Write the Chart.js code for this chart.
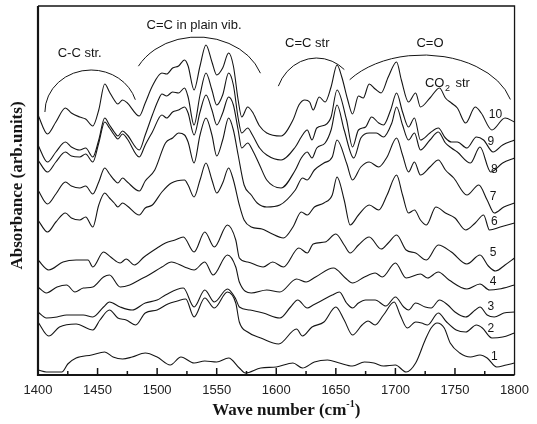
<!DOCTYPE html>
<html lang="en">
<head>
<meta charset="utf-8">
<title>Absorbance spectra</title>
<script src="https://cdn.jsdelivr.net/npm/chart.js@4.4.0/dist/chart.umd.min.js"></script>
<style>
    html, body { margin: 0; padding: 0; background: #fff; }
    canvas { display: block; }
</style>
</head>
<body>
<canvas id="spectraChart" width="537" height="424"></canvas>
<script>
// Axis range (wave number in cm-1, absorbance in arb. units)
const xMin = 1400;
const xMax = 1800;
const xStep = 50;
const yMin = 0;
const yMax = 369;

// Spectra: [wave number, absorbance]
const spectrum1 = [[1400,5],[1407,3],[1420,3],[1425,11],[1432,17],[1445,20],[1456,23],[1463,18],[1471,16],[1479,18],[1490,22],[1500,18],[1511,10],[1520,18],[1531,12],[1540,14],[1550,13],[1560,17],[1569,7],[1574,2],[1587,7],[1600,8],[1614,12],[1622,7],[1632,13],[1643,15],[1653,12],[1664,9],[1674,13],[1682,12],[1690,9],[1700,10],[1709,3],[1717,12],[1725,35],[1730,47],[1735,52],[1741,47],[1746,32],[1754,22],[1763,18],[1771,20],[1777,17],[1785,8],[1793,10],[1800,12]];
const spectrum2 = [[1400,53],[1409,39],[1418,48],[1432,51],[1446,45],[1452,55],[1460,65],[1467,57],[1474,55],[1482,50],[1490,62],[1500,65],[1509,71],[1517,74],[1524,76],[1531,58],[1540,77],[1548,67],[1559,83],[1566,72],[1569,53],[1576,43],[1587,37],[1602,31],[1617,46],[1622,39],[1630,48],[1640,53],[1650,68],[1657,55],[1664,40],[1672,50],[1677,54],[1683,50],[1690,60],[1699,73],[1704,60],[1710,47],[1717,53],[1722,52],[1727,50],[1736,62],[1743,53],[1751,45],[1759,43],[1768,50],[1773,47],[1781,37],[1790,38],[1800,42]];
const spectrum3 = [[1400,63],[1407,57],[1416,58],[1424,60],[1438,60],[1446,58],[1455,68],[1460,73],[1469,68],[1479,65],[1490,72],[1500,75],[1507,80],[1522,87],[1531,68],[1540,85],[1548,73],[1559,86],[1566,76],[1569,68],[1578,65],[1589,62],[1603,57],[1612,68],[1618,75],[1626,67],[1631,70],[1639,75],[1647,80],[1653,83],[1659,72],[1664,67],[1669,72],[1675,75],[1683,75],[1692,69],[1700,78],[1707,68],[1711,65],[1717,72],[1725,68],[1730,67],[1737,75],[1744,70],[1750,63],[1759,58],[1767,65],[1771,68],[1777,60],[1783,58],[1791,62],[1800,63]];
const spectrum4 = [[1400,88],[1407,82],[1416,88],[1424,90],[1431,83],[1438,87],[1446,88],[1455,98],[1460,100],[1469,88],[1477,90],[1485,95],[1493,100],[1504,108],[1512,113],[1523,108],[1531,105],[1540,113],[1547,100],[1559,120],[1566,108],[1569,93],[1579,82],[1592,85],[1603,83],[1617,96],[1625,93],[1633,98],[1648,107],[1658,97],[1664,92],[1674,98],[1683,102],[1689,98],[1700,112],[1709,97],[1721,101],[1727,97],[1736,103],[1745,95],[1760,86],[1771,91],[1779,85],[1787,86],[1800,90]];
const spectrum5 = [[1400,115],[1409,105],[1421,113],[1432,115],[1442,115],[1446,108],[1455,123],[1461,118],[1469,112],[1474,116],[1481,110],[1489,118],[1500,127],[1507,132],[1515,135],[1522,138],[1531,123],[1540,143],[1548,128],[1559,150],[1566,135],[1569,117],[1576,113],[1589,108],[1597,113],[1606,108],[1619,127],[1626,122],[1631,131],[1641,133],[1650,141],[1657,130],[1662,122],[1669,130],[1678,138],[1688,126],[1694,132],[1701,140],[1709,125],[1717,122],[1726,115],[1736,130],[1747,123],[1760,111],[1771,120],[1778,109],[1784,104],[1792,110],[1800,117]];
const spectrum6 = [[1400,155],[1408,143],[1415,153],[1423,162],[1428,157],[1435,155],[1440,158],[1446,148],[1451,170],[1456,182],[1460,177],[1464,172],[1467,168],[1471,172],[1475,169],[1485,160],[1490,167],[1496,170],[1504,183],[1512,192],[1523,195],[1526,190],[1531,178],[1536,195],[1541,212],[1546,195],[1550,182],[1555,192],[1560,207],[1564,195],[1569,170],[1573,155],[1579,148],[1588,146],[1595,142],[1606,137],[1614,148],[1621,163],[1626,160],[1632,168],[1640,172],[1647,180],[1651,198],[1657,175],[1662,150],[1669,160],[1678,170],[1686,165],[1693,180],[1701,200],[1706,180],[1711,162],[1716,165],[1721,155],[1726,150],[1734,168],[1742,162],[1750,157],[1759,145],[1767,152],[1774,160],[1779,145],[1788,148],[1800,152]];
const spectrum7 = [[1400,185],[1408,171],[1415,181],[1423,193],[1428,189],[1435,187],[1440,189],[1446,181],[1451,193],[1456,207],[1460,201],[1464,195],[1467,192],[1471,197],[1475,193],[1485,184],[1490,194],[1498,205],[1507,232],[1513,237],[1518,242],[1523,240],[1526,233],[1531,212],[1536,240],[1541,257],[1546,240],[1550,219],[1555,235],[1560,257],[1564,245],[1568,220],[1573,190],[1579,180],[1584,172],[1592,168],[1603,170],[1616,185],[1622,197],[1626,195],[1632,205],[1640,212],[1647,218],[1651,235],[1659,212],[1664,195],[1671,208],[1678,213],[1686,208],[1693,218],[1701,237],[1706,220],[1711,203],[1716,213],[1721,200],[1729,208],[1736,215],[1742,205],[1749,197],[1760,180],[1770,190],[1777,175],[1783,162],[1791,168],[1800,172]];
const spectrum8 = [[1400,215],[1408,203],[1415,213],[1423,223],[1428,219],[1435,218],[1440,221],[1446,213],[1451,232],[1456,253],[1460,247],[1464,240],[1467,236],[1471,241],[1475,236],[1485,218],[1490,230],[1496,243],[1504,260],[1508,257],[1513,263],[1518,265],[1523,268],[1526,262],[1531,240],[1536,263],[1541,280],[1546,265],[1550,250],[1555,262],[1560,278],[1564,270],[1568,245],[1571,227],[1576,232],[1580,225],[1586,210],[1592,195],[1604,187],[1616,205],[1621,217],[1626,223],[1630,217],[1634,227],[1641,232],[1646,245],[1651,270],[1657,245],[1665,217],[1671,237],[1678,242],[1684,242],[1690,238],[1697,252],[1701,268],[1706,250],[1711,235],[1716,242],[1721,225],[1729,235],[1736,243],[1742,232],[1747,227],[1752,223],[1763,212],[1771,228],[1780,203],[1790,212],[1800,217]];
const spectrum9 = [[1400,230],[1408,213],[1415,223],[1423,233],[1428,228],[1435,225],[1440,227],[1446,218],[1451,235],[1456,257],[1460,250],[1464,243],[1467,239],[1471,244],[1475,240],[1485,225],[1490,240],[1496,260],[1501,275],[1504,281],[1508,279],[1513,283],[1518,282],[1523,287],[1526,278],[1531,250],[1536,280],[1541,302],[1546,285],[1550,270],[1555,280],[1560,302],[1564,290],[1568,257],[1571,242],[1576,247],[1580,240],[1586,227],[1592,220],[1604,215],[1616,228],[1621,238],[1626,245],[1630,235],[1634,247],[1641,250],[1646,258],[1651,285],[1659,255],[1664,228],[1669,245],[1675,248],[1680,258],[1686,252],[1690,250],[1696,265],[1701,282],[1706,263],[1711,248],[1716,257],[1721,235],[1729,242],[1736,247],[1742,237],[1747,233],[1752,233],[1760,227],[1768,238],[1774,235],[1782,223],[1790,230],[1800,235]];
const spectrum10 = [[1400,260],[1408,241],[1415,253],[1423,267],[1428,262],[1435,258],[1440,256],[1446,249],[1451,265],[1456,291],[1460,283],[1464,275],[1467,271],[1471,275],[1475,272],[1485,259],[1490,272],[1496,289],[1504,302],[1508,301],[1513,307],[1518,309],[1523,315],[1526,309],[1531,285],[1536,309],[1541,330],[1546,313],[1550,300],[1555,307],[1560,322],[1564,309],[1568,275],[1571,258],[1576,268],[1580,263],[1586,249],[1592,242],[1604,239],[1614,255],[1619,270],[1624,275],[1628,273],[1631,265],[1636,278],[1641,273],[1646,288],[1651,310],[1655,298],[1660,275],[1664,261],[1669,279],[1673,277],[1678,291],[1683,286],[1688,282],[1694,298],[1701,313],[1705,295],[1711,273],[1717,282],[1721,268],[1729,277],[1737,287],[1742,277],[1747,272],[1752,267],[1759,252],[1767,268],[1772,262],[1781,245],[1792,257],[1800,253]];

const spectra = [spectrum1, spectrum2, spectrum3, spectrum4, spectrum5, spectrum6, spectrum7, spectrum8, spectrum9, spectrum10];
const spectrumNames = ['1', '2', '3', '4', '5', '6', '7', '8', '9', '10'];
const spectrumNameAnchors = [[1783,18],[1780,46],[1780,68],[1782,93],[1782,122],[1783,153],[1782,178],[1783,205],[1780,233],[1784,260]];

// Band assignments: text, text anchor, arc (center, radii, start/end angle in degrees)
const bandNames = ['C-C str.', 'C=C in plain vib.', 'C=C str', 'C=O'];
const bandNameAnchors = [[1435,322],[1531,350],[1626,332],[1729,332]];
const bandArcs = [
    { center: [1444.6, 263], radius: [38.8, 42], from: 180, to: 343 },
    { center: [1533.9, 283], radius: [56.2, 55], from: 208, to: 340 },
    { center: [1633.9, 272], radius: [34.7, 45], from: 202, to: 312 },
    { center: [1723.1, 260], radius: [76, 60], from: 216, to: 345 }
];
const co2Anchor = [1724.8, 292];

const ink = '#151515';
const sansFont = '"Liberation Sans", Arial, sans-serif';
const serifFont = '"Liberation Serif", "Times New Roman", serif';

const decorPlugin = {
    id: 'decor',
    beforeDraw(chart) {
        const ctx = chart.ctx;
        ctx.save();
        ctx.fillStyle = '#fff';
        ctx.fillRect(0, 0, chart.width, chart.height);
        ctx.restore();
    },
    afterDraw(chart) {
        const { ctx, chartArea: area, scales: { x, y } } = chart;
        ctx.save();
        ctx.strokeStyle = ink;
        ctx.fillStyle = ink;

        // Frame: heavy left/bottom axes, light top/right
        ctx.lineWidth = 2.2;
        ctx.beginPath();
        ctx.moveTo(area.left, area.top);
        ctx.lineTo(area.left, area.bottom);
        ctx.lineTo(area.right, area.bottom);
        ctx.stroke();
        ctx.lineWidth = 1.3;
        ctx.beginPath();
        ctx.moveTo(area.left, area.top);
        ctx.lineTo(area.right, area.top);
        ctx.lineTo(area.right, area.bottom);
        ctx.stroke();

        // Inward tick marks on the wave number axis
        ctx.lineWidth = 1.5;
        for (let v = xMin + xStep / 2; v < xMax; v += xStep / 2) {
            const px = x.getPixelForValue(v);
            const len = v % xStep === 0 ? 7 : 4;
            ctx.beginPath();
            ctx.moveTo(px, area.bottom);
            ctx.lineTo(px, area.bottom - len);
            ctx.stroke();
        }

        // Band arcs
        ctx.lineWidth = 1;
        bandArcs.forEach(arc => {
            const cx = x.getPixelForValue(arc.center[0]);
            const cy = y.getPixelForValue(arc.center[1]);
            const rx = x.getPixelForValue(arc.center[0] + arc.radius[0]) - cx;
            const ry = cy - y.getPixelForValue(arc.center[1] + arc.radius[1]);
            ctx.beginPath();
            ctx.ellipse(cx, cy, rx, ry, 0, arc.from * Math.PI / 180, arc.to * Math.PI / 180);
            ctx.stroke();
        });

        // Band names
        ctx.font = '13px ' + sansFont;
        ctx.textAlign = 'center';
        ctx.textBaseline = 'middle';
        bandNames.forEach((name, i) => {
            ctx.fillText(name, x.getPixelForValue(bandNameAnchors[i][0]), y.getPixelForValue(bandNameAnchors[i][1]));
        });

        // CO2 str label with subscript
        let cx = x.getPixelForValue(co2Anchor[0]);
        const cy = y.getPixelForValue(co2Anchor[1]);
        ctx.textAlign = 'left';
        ctx.fillText('CO', cx, cy);
        cx += ctx.measureText('CO').width;
        ctx.font = '9px ' + sansFont;
        ctx.fillText('2', cx + 0.5, cy + 6);
        cx += ctx.measureText('2').width + 6;
        ctx.font = '13px ' + sansFont;
        ctx.fillText('str', cx, cy);

        // Spectrum numbers
        ctx.font = '12px ' + sansFont;
        ctx.textAlign = 'center';
        spectrumNames.forEach((name, i) => {
            ctx.fillText(name, x.getPixelForValue(spectrumNameAnchors[i][0]), y.getPixelForValue(spectrumNameAnchors[i][1]));
        });

        // Axis titles
        ctx.font = 'bold 17px ' + serifFont;
        ctx.save();
        ctx.translate(18, (area.top + area.bottom) / 2 - 5);
        ctx.rotate(-Math.PI / 2);
        ctx.textAlign = 'center';
        ctx.fillText('Absorbance (arb.units)', 0, 0);
        ctx.restore();

        const partA = 'Wave number (cm';
        const partC = ')';
        const supFont = 'bold 10px ' + serifFont;
        const mainFont = 'bold 17px ' + serifFont;
        ctx.font = mainFont;
        const wA = ctx.measureText(partA).width;
        const wC = ctx.measureText(partC).width;
        ctx.font = supFont;
        const wB = ctx.measureText('-1').width;
        const titleY = chart.height - 13;
        let tx = (area.left + area.right) / 2 + 10 - (wA + wB + wC) / 2;
        ctx.textAlign = 'left';
        ctx.font = mainFont;
        ctx.fillText(partA, tx, titleY);
        tx += wA;
        ctx.font = supFont;
        ctx.fillText('-1', tx, titleY - 7);
        tx += wB;
        ctx.font = mainFont;
        ctx.fillText(partC, tx, titleY);

        ctx.restore();
    }
};

function buildDatasets() {
    return spectra.map((points, i) => ({
        label: spectrumNames[i],
        data: points.map(p => ({ x: p[0], y: p[1] })),
        borderColor: ink,
        borderWidth: 1.1,
        borderJoinStyle: 'round',
        pointRadius: 0,
        fill: false,
        cubicInterpolationMode: 'monotone'
    }));
}

const ctx = document.getElementById('spectraChart').getContext('2d');
new Chart(ctx, {
    type: 'line',
    data: { datasets: buildDatasets() },
    options: {
        responsive: false,
        animation: false,
        events: [],
        layout: { padding: { left: 0, right: 15, top: 6, bottom: 0 } },
        plugins: {
            legend: { display: false },
            tooltip: { enabled: false }
        },
        scales: {
            x: {
                type: 'linear',
                min: xMin,
                max: xMax,
                afterFit: scale => { scale.height = 49; },
                grid: { display: false, drawTicks: false },
                border: { display: false },
                ticks: {
                    stepSize: xStep,
                    padding: 8,
                    maxRotation: 0,
                    autoSkip: false,
                    color: '#222',
                    font: { family: sansFont, size: 13 },
                    callback: value => String(value)
                }
            },
            y: {
                type: 'linear',
                min: yMin,
                max: yMax,
                afterFit: scale => { scale.width = 38; },
                grid: { display: false, drawTicks: false },
                border: { display: false },
                ticks: { display: false }
            }
        }
    },
    plugins: [decorPlugin]
});
</script>
</body>
</html>
